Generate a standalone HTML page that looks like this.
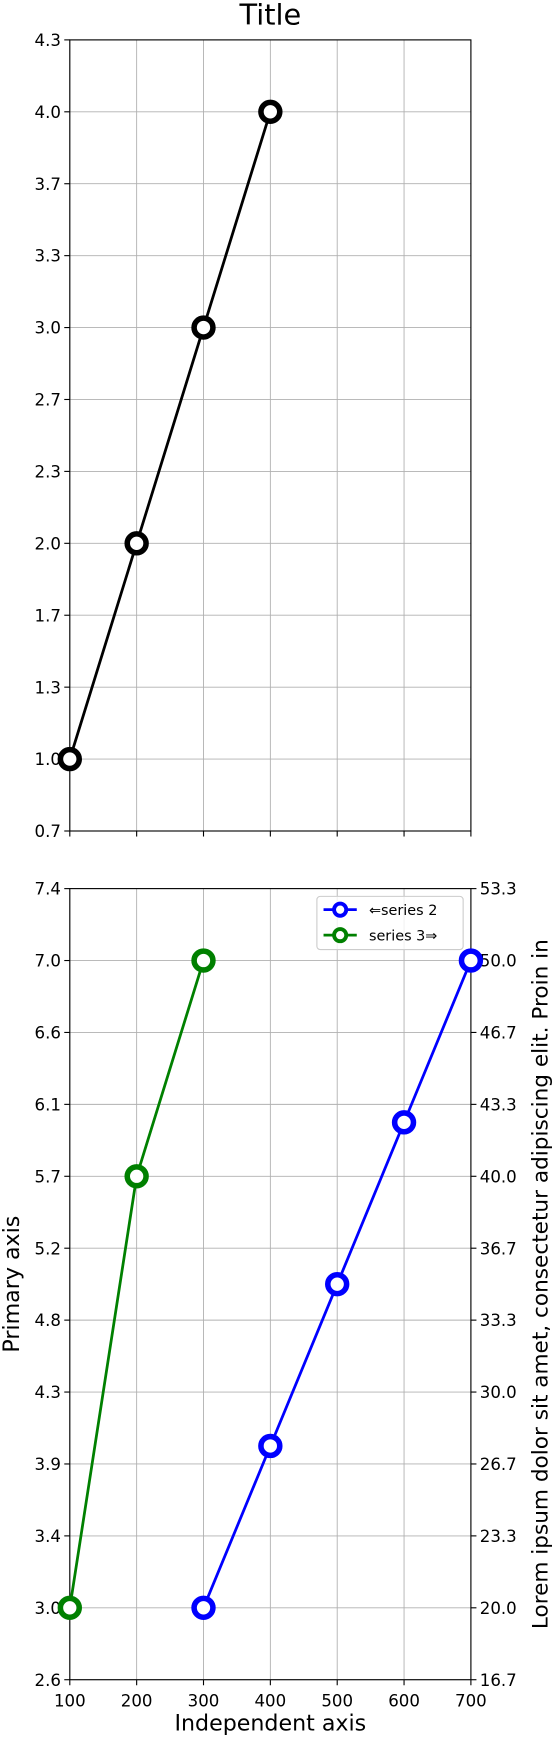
<!DOCTYPE html>
<html><head><meta charset="utf-8"><style>
body{margin:0;background:#fff;}
svg{display:block;font-family:"DejaVu Sans","Liberation Sans",sans-serif;}
</style></head><body>
<svg id="c" width="554" height="1739" viewBox="0 0 500 1569.5" xmlns="http://www.w3.org/2000/svg"></svg>
<script>
const xTicks=[100,200,300,400,500,600,700];
const topX=[100,200,300,400];
const topY=[1,2,3,4];
const s2X=[300,400,500,600,700];
const s2Y=[3,4,5,6,7];
const s3X=[100,200,300];
const s3Y=[20,40,50];
const topTickLabels=["0.7","1.0","1.3","1.7","2.0","2.3","2.7","3.0","3.3","3.7","4.0","4.3"];
const leftTickLabels=["2.6","3.0","3.4","3.9","4.3","4.8","5.2","5.7","6.1","6.6","7.0","7.4"];
const rightTickLabels=["16.7","20.0","23.3","26.7","30.0","33.3","36.7","40.0","43.3","46.7","50.0","53.3"];

const svg=document.getElementById('c');
const NS='http://www.w3.org/2000/svg';
function mk(tag,at,parent){const e=document.createElementNS(NS,tag);for(const k in at)e.setAttribute(k,at[k]);(parent||svg).appendChild(e);return e;}
const L=63,R=425;
const xs=v=>L+(v-100)/600*(R-L);
const T1=36,B1=750, T2=802,B2=1516;
const yTop=v=>B1-(v-2/3)/(11/3)*(B1-T1);
const yLeft=v=>B2-(v-(3-4/9))/(11*4/9)*(B2-T2);
const yRight=v=>B2-(v-50/3)/(110/3)*(B2-T2);

function panel(T,B,labels,name){
  const g=mk('g',{});
  
  
  xTicks.forEach(v=>{const l=mk('line',{x1:xs(v),x2:xs(v),y1:T,y2:B,stroke:'#b0b0b0','stroke-width':0.8},g);
    
    mk('line',{x1:xs(v),x2:xs(v),y1:B,y2:B+5,stroke:'#000'},g);});
  labels.forEach((t,i)=>{const y=B-i*(B-T)/11;
    const l=mk('line',{x1:L,x2:R,y1:y,y2:y,stroke:'#b0b0b0','stroke-width':0.8},g);
    
    mk('line',{x1:L-5,x2:L,y1:y,y2:y,stroke:'#000'},g);
    const tx=mk('text',{x:L-8,y:y+5.5,'text-anchor':'end','font-size':15},g);tx.textContent=t;
    });
  const r=mk('rect',{x:L,y:T,width:R-L,height:B-T,fill:'none',stroke:'#000','stroke-width':1},g);
  
  return g;
}
panel(T1,B1,topTickLabels,'top-panel');
const g2=panel(T2,B2,leftTickLabels,'bottom-panel');
rightTickLabels.forEach((t,i)=>{const y=B2-i*(B2-T2)/11;
  mk('line',{x1:R,x2:R+5,y1:y,y2:y,stroke:'#000'});
  const tx=mk('text',{x:R+8,y:y+5.5,'font-size':15});tx.textContent=t;
  });
xTicks.forEach(v=>{const tx=mk('text',{x:xs(v),y:B2+24,'text-anchor':'middle','font-size':15});tx.textContent=v;
  });

function series(X,Y,yf,col,name){
  const g=mk('g',{});
  
  mk('polyline',{points:X.map((x,i)=>xs(x)+','+yf(Y[i])).join(' '),fill:'none',stroke:col,'stroke-width':2.5},g);
  X.forEach((x,i)=>{const c=mk('circle',{cx:xs(x),cy:yf(Y[i]),r:8.5,fill:'#fff',stroke:col,'stroke-width':5},g);
    });
}
series(topX,topY,yTop,'#000','series-1');
series(s2X,s2Y,yLeft,'#0000ff','series-2');
series(s3X,s3Y,yRight,'#008000','series-3');

let t=mk('text',{x:244,y:22,'text-anchor':'middle','font-size':26});t.textContent='Title';

t=mk('text',{x:244,y:1562,'text-anchor':'middle','font-size':20});t.textContent='Independent axis';

t=mk('text',{x:0,y:0,'text-anchor':'middle','font-size':20,transform:'translate(17,1159) rotate(-90)'});t.textContent='Primary axis';

t=mk('text',{x:0,y:0,'text-anchor':'middle','font-size':19.5,transform:'translate(494,1159) rotate(-90)'});t.textContent='Lorem ipsum dolor sit amet, consectetur adipiscing elit. Proin in';


const lg=mk('g',{});

mk('rect',{x:286,y:809,width:132,height:48,rx:3,fill:'#fff','fill-opacity':0.8,stroke:'#ccc'},lg);
[['#0000ff','⇐series 2',821,'legend-entry-series-2'],['#008000','series 3⇒',844,'legend-entry-series-3']].forEach(([c,txt,y,n])=>{
  const e=mk('g',{},lg);
  mk('line',{x1:292,x2:322,y1:y,y2:y,stroke:c,'stroke-width':2.5},e);
  mk('circle',{cx:307,cy:y,r:5.5,fill:'#fff',stroke:c,'stroke-width':3.5},e);
  const tt=mk('text',{x:333,y:y+5,'font-size':13},e);tt.textContent=txt;});
</script>
</body></html>
